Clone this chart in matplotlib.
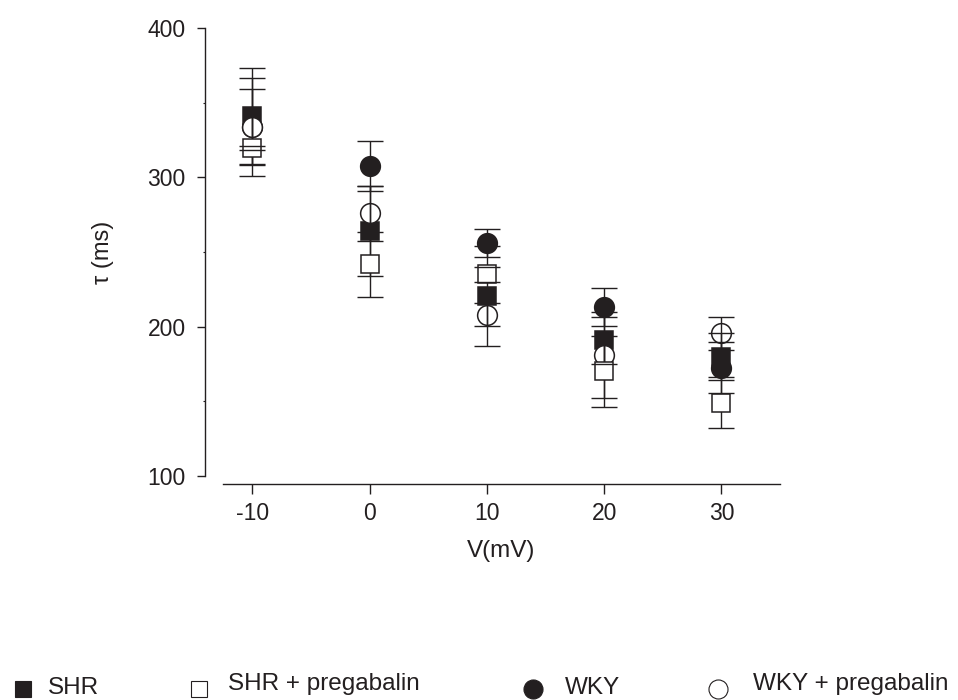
# Import modules
import matplotlib
matplotlib.use('Agg')
import matplotlib.pyplot as plt
from matplotlib.lines import Line2D
from matplotlib.ticker import MultipleLocator

plt.rcParams['font.family'] = ['Liberation Sans', 'DejaVu Sans']

ink = '#231f20'

# Data: membrane potential and time constants (mean, error)
voltage = [-10, 0, 10, 20, 30]
voltage_labels = ['-10', '0', '10', '20', '30']

shr = [341, 264, 220.5, 191, 180]
shr_err = [32.5, 30, 33.3, 15.7, 15.5]

shr_preg = [319.5, 241.7, 235, 170, 149]
shr_preg_err = [1.2, 21.6, 5.2, 23.8, 17]

wky = [334, 307.5, 256, 213, 172.5]
wky_err = [25, 16.8, 9.2, 12.8, 17]

wky_preg = [333.7, 276, 208, 181, 195.5]
wky_preg_err = [32.6, 18.5, 7.6, 28.5, 10.8]

labels = ['SHR', 'SHR + pregabalin', 'WKY', 'WKY + pregabalin']

# Marker styles per series: (marker, face, size, zorder)
styles = [
    ('s', ink, 12.5, 3),
    ('s', 'white', 12.5, 5),
    ('o', ink, 14.2, 3),
    ('o', 'white', 14.2, 3),
]
series = [(shr, shr_err), (shr_preg, shr_preg_err),
          (wky, wky_err), (wky_preg, wky_preg_err)]

# Plotting
fig = plt.figure(figsize=(9.58, 7), dpi=100)
ax = fig.add_axes([223 / 958, 1 - 476 / 700, (780 - 223) / 958, (476 - 28) / 700])

for (vals, errs), (mk, face, ms, z) in zip(series, styles):
    eb = ax.errorbar(voltage, vals, yerr=errs, fmt='none', ecolor=ink,
                     elinewidth=1.0, capsize=9.5, capthick=1.0, zorder=4)
    for cap in eb.lines[1]:
        cap.set_zorder(6)
        cap.set_color('#4a4a4a')
    ax.plot(voltage, vals, linestyle='none', marker=mk, markersize=ms,
            markerfacecolor=face, markeredgecolor=ink, markeredgewidth=1.1,
            zorder=z)

# Axis limits and ticks
ax.set_xlim(-12.5, 35)
ax.set_ylim(100, 400)
ax.set_xticks(voltage)
ax.set_xticklabels(voltage_labels)
ax.set_yticks([100, 200, 300, 400])
ax.yaxis.set_minor_locator(MultipleLocator(50))

for side in ['top', 'right']:
    ax.spines[side].set_visible(False)
ax.spines['left'].set_position(('outward', 13))
ax.spines['bottom'].set_position(('outward', 5.8))
for side in ['left', 'bottom']:
    ax.spines[side].set_color(ink)
    ax.spines[side].set_linewidth(1.0)

ax.tick_params(axis='y', which='major', length=5.8, width=1.0, pad=8,
               labelsize=16.5, colors=ink)
ax.tick_params(axis='y', which='minor', length=1.5, width=0.8, colors=ink)
ax.tick_params(axis='x', which='major', length=7, width=1.0, pad=6,
               labelsize=16.5, colors=ink)

ax.set_xlabel('V(mV)', fontsize=17.5, color=ink, labelpad=11)
ax.set_ylabel('τ (ms)', fontsize=17, color=ink, labelpad=24)

# Legend along the bottom edge of the figure
legend_items = [
    (22.5, 689, 48, 688),
    (199, 689, 228, 684),
    (533, 689, 565, 688),
    (718, 689, 753, 684),
]
for (mx, my, tx, ty), (mk, face, ms, z), lab in zip(legend_items, styles, labels):
    fig.add_artist(Line2D([mx / 958], [1 - my / 700], transform=fig.transFigure,
                          linestyle='none', marker=mk, markersize=ms - 0.5,
                          markerfacecolor=face, markeredgecolor=ink,
                          markeredgewidth=0.8))
    fig.text(tx / 958, 1 - ty / 700, lab, fontsize=17.5, color=ink,
             ha='left', va='center')

fig.savefig('out.png', dpi=100)
